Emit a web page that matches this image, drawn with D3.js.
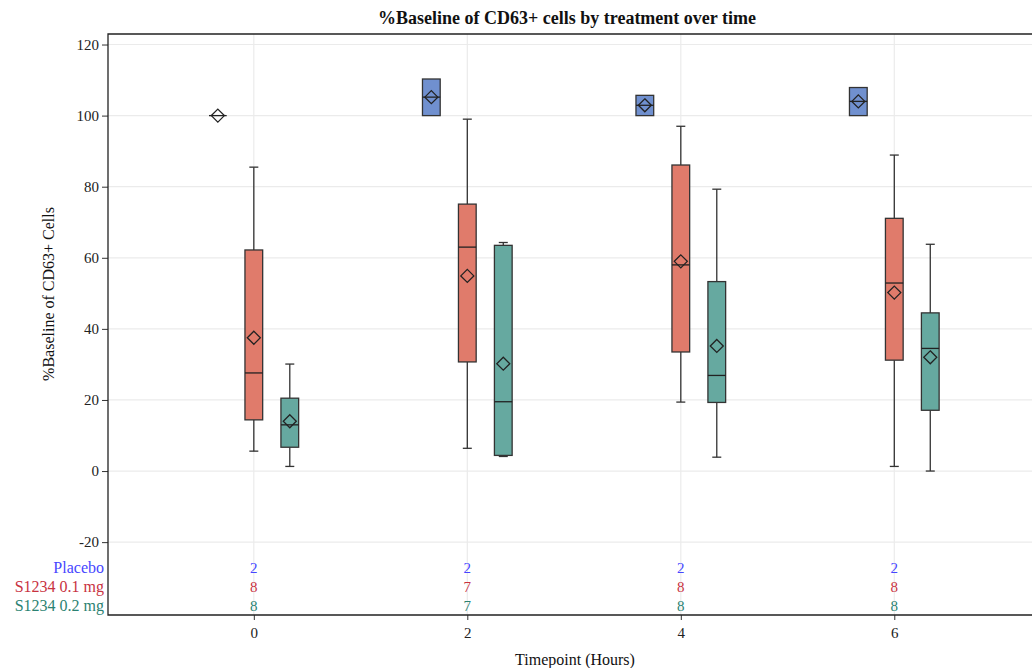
<!DOCTYPE html>
<html>
<head>
<meta charset="utf-8">
<script src="https://cdn.jsdelivr.net/npm/d3@7"></script>
<style>
  body { margin: 0; background: #fff; }
  text { font-family: "Liberation Serif", "DejaVu Serif", serif; }
</style>
</head>
<body>
<svg id="chart" width="1032" height="668"></svg>
<script>
// Timepoints (hours) and treatment groups
const timepoints = [0, 2, 4, 6];
const groups = ["Placebo", "S1234 0.1 mg", "S1234 0.2 mg"];
const yTicks = [-20, 0, 20, 40, 60, 80, 100, 120];

// box stats per group, one entry per timepoint: [min, q1, median, q3, max, mean]
const placeboStats = [
    [100, 100, 100, 100, 100, 100],
    [100, 100, 105.2, 110.3, 110.3, 105.2],
    [100, 100, 102.9, 105.7, 105.7, 102.9],
    [100, 100, 104.0, 107.9, 107.9, 104.0]
];
const lowDoseStats = [
    [5.6, 14.4, 27.6, 62.2, 85.5, 37.5],
    [6.4, 30.7, 63.0, 75.1, 99.0, 54.9],
    [19.4, 33.5, 58.0, 86.1, 97.0, 59.0],
    [1.3, 31.2, 52.9, 71.1, 88.9, 50.2]
];
const highDoseStats = [
    [1.3, 6.7, 13.0, 20.5, 30.1, 14.0],
    [4.1, 4.4, 19.5, 63.5, 64.3, 30.2],
    [3.9, 19.3, 26.9, 53.3, 79.3, 35.2],
    [0, 17.1, 34.5, 44.5, 63.8, 32.0]
];
// subject counts shown under the plot
const placeboN = [2, 2, 2, 2];
const lowDoseN = [8, 7, 8, 8];
const highDoseN = [8, 7, 8, 8];

const groupStats = [placeboStats, lowDoseStats, highDoseStats];
const groupN = [placeboN, lowDoseN, highDoseN];
const offsets = [-0.337, 0, 0.337];
const fills = ["#7090cf", "#e07b6b", "#66a9a0"];
const textColors = ["#4646ff", "#c8323f", "#2b8272"];

const svg = d3.select("#chart");
const plotLeft = 108, plotTop = 34, plotBottom = 615, plotRight = 1032;

const x = d3.scaleLinear().domain([-1.366, 7.29]).range([plotLeft, plotRight]);
const y = d3.scaleLinear().domain([-40.5, 122.96]).range([plotBottom, plotTop]);

// gridlines
svg.append("g").selectAll("line").data(yTicks).join("line")
    .attr("x1", plotLeft).attr("x2", plotRight)
    .attr("y1", d => y(d)).attr("y2", d => y(d))
    .attr("stroke", "#ebebeb").attr("stroke-width", 1.2);
svg.append("g").selectAll("line").data(timepoints).join("line")
    .attr("x1", d => x(d)).attr("x2", d => x(d))
    .attr("y1", plotTop).attr("y2", plotBottom)
    .attr("stroke", "#ebebeb").attr("stroke-width", 1.2);

// axes (plain hyphen for negatives, like the original)
const yAxis = svg.append("g").attr("transform", `translate(${plotLeft},0)`)
    .call(d3.axisLeft(y).tickValues(yTicks).tickFormat(d => String(d)).tickSize(6).tickPadding(3));
const xAxis = svg.append("g").attr("transform", `translate(0,${plotBottom})`)
    .call(d3.axisBottom(x).tickValues(timepoints).tickFormat(d => String(d)).tickSize(5).tickPadding(7));
[yAxis, xAxis].forEach(ax => {
    ax.select(".domain").remove();
    ax.selectAll(".tick line").attr("stroke", "#333");
    ax.selectAll(".tick text").attr("fill", "#222").style("font-size", "15px")
        .style("font-family", '"Liberation Serif", serif');
});

// frame (right side is off the picture)
svg.append("path")
    .attr("d", `M${plotRight},${plotTop}H${plotLeft}V${plotBottom}H${plotRight}`)
    .attr("fill", "none").attr("stroke", "#222").attr("stroke-width", 1.3);

// boxes
const boxHalf = 0.083, capHalf = 4.5, dia = 6.5;
groupStats.forEach((stats, g) => {
    const layer = svg.append("g");
    stats.forEach((s, i) => {
        const [mn, q1, med, q3, mx, mean] = s;
        const cx = x(timepoints[i] + offsets[g]);
        const x0 = x(timepoints[i] + offsets[g] - boxHalf);
        const x1 = x(timepoints[i] + offsets[g] + boxHalf);
        const grp = layer.append("g");
        // whiskers
        if (mx > q3) {
            grp.append("line").attr("x1", cx).attr("x2", cx).attr("y1", y(q3)).attr("y2", y(mx))
                .attr("stroke", "#333").attr("stroke-width", 1.3);
            grp.append("line").attr("x1", cx - capHalf).attr("x2", cx + capHalf)
                .attr("y1", y(mx)).attr("y2", y(mx)).attr("stroke", "#333").attr("stroke-width", 1.3);
        }
        if (mn < q1) {
            grp.append("line").attr("x1", cx).attr("x2", cx).attr("y1", y(q1)).attr("y2", y(mn))
                .attr("stroke", "#333").attr("stroke-width", 1.3);
            grp.append("line").attr("x1", cx - capHalf).attr("x2", cx + capHalf)
                .attr("y1", y(mn)).attr("y2", y(mn)).attr("stroke", "#333").attr("stroke-width", 1.3);
        }
        if (q3 > q1) {
            grp.append("rect").attr("x", x0).attr("y", y(q3))
                .attr("width", x1 - x0).attr("height", y(q1) - y(q3))
                .attr("fill", fills[g]).attr("stroke", "#333").attr("stroke-width", 1.3);
        }
        // median
        grp.append("line").attr("x1", x0).attr("x2", x1).attr("y1", y(med)).attr("y2", y(med))
            .attr("stroke", "#222").attr("stroke-width", 1.3);
        // mean diamond
        const my = y(mean);
        grp.append("path")
            .attr("d", `M${cx},${my - dia}L${cx + dia},${my}L${cx},${my + dia}L${cx - dia},${my}Z`)
            .attr("fill", "none").attr("stroke", "#222").attr("stroke-width", 1.3);
    });
});

// subject counts
const rowY = [573, 592, 611];
groups.forEach((name, g) => {
    svg.append("text").attr("x", 104).attr("y", rowY[g]).attr("text-anchor", "end")
        .attr("fill", textColors[g]).style("font-size", "16px").text(name);
    svg.append("g").selectAll("text").data(groupN[g]).join("text")
        .attr("x", (d, i) => x(timepoints[i])).attr("y", rowY[g])
        .attr("text-anchor", "middle").attr("fill", textColors[g])
        .style("font-size", "15px").text(d => d);
});

// titles
svg.append("text").attr("x", 567).attr("y", 24).attr("text-anchor", "middle")
    .style("font-size", "18px").style("font-weight", "bold").attr("fill", "#111")
    .text("%Baseline of CD63+ cells by treatment over time");
svg.append("text").attr("x", 575).attr("y", 665).attr("text-anchor", "middle")
    .style("font-size", "16px").attr("fill", "#111").text("Timepoint (Hours)");
svg.append("text").attr("transform", "translate(54,294) rotate(-90)").attr("text-anchor", "middle")
    .style("font-size", "16px").attr("fill", "#111").text("%Baseline of CD63+ Cells");
</script>
</body>
</html>
